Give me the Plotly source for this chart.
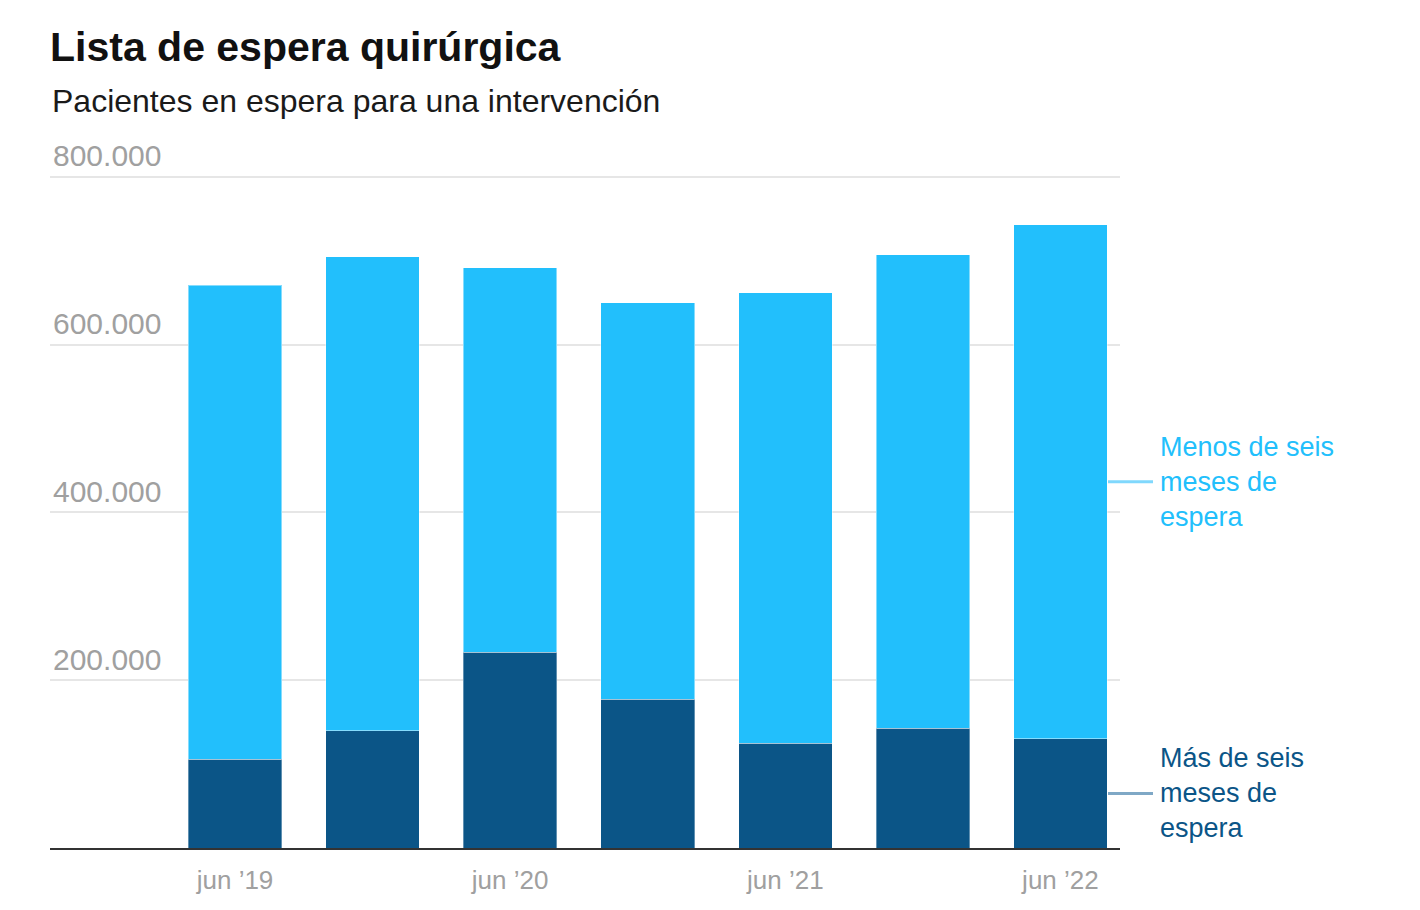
import plotly.graph_objects as go

categories = ["jun ’19", "dic ’19", "jun ’20", "dic ’20", "jun ’21", "dic ’21", "jun ’22"]
mas_seis_meses = [106000, 139500, 233500, 177500, 125000, 143000, 130000]
totales = [671000, 704500, 691500, 650000, 662000, 707000, 743000]
menos_seis_meses = [t - m for t, m in zip(totales, mas_seis_meses)]
tick_labels = ["jun ’19", "jun ’20", "jun ’21", "jun ’22"]
y_ticks = [200000, 400000, 600000, 800000]
y_tick_text = ["200.000", "400.000", "600.000", "800.000"]

LIGHT = "#22bffc"
DARK = "#0b5587"
FONT = "Liberation Sans, Arial, sans-serif"

fig = go.Figure()
fig.add_trace(go.Bar(x=categories, y=mas_seis_meses, name="Más de seis meses de espera",
                     marker=dict(color=DARK, line=dict(color="rgba(255,255,255,0.35)", width=1)),
                     hoverinfo="skip"))
fig.add_trace(go.Bar(x=categories, y=menos_seis_meses, name="Menos de seis meses de espera",
                     marker=dict(color=LIGHT, line=dict(color="rgba(255,255,255,0.45)", width=1)),
                     hoverinfo="skip"))

Y_MAX = 845000
L, R, T, B = 50, 300, 139, 62
W, H = 1420, 910
plot_w = W - L - R
plot_h = H - T - B

fig.update_layout(
    width=W, height=H,
    barmode="stack", bargap=0.32,
    showlegend=False,
    plot_bgcolor="white", paper_bgcolor="white",
    margin=dict(l=L, r=R, t=T, b=B),
    title=dict(text="<b>Lista de espera quirúrgica</b>", x=L / W, xanchor="left",
               y=1 - 47 / H, yanchor="middle", yref="container",
               font=dict(family=FONT, size=41, color="#111111")),
    xaxis=dict(
        type="category", range=[-1.345, 6.433],
        tickmode="array", tickvals=tick_labels, ticktext=tick_labels,
        tickfont=dict(family=FONT, size=26, color="#a0a0a0"),
        ticklabelstandoff=8,
        showgrid=False, ticks="", ticklen=0,
        showline=True, linecolor="#333333", linewidth=2,
        fixedrange=True,
    ),
    yaxis=dict(
        range=[0, Y_MAX],
        tickmode="array", tickvals=y_ticks, ticktext=y_tick_text,
        ticklabelposition="inside top",
        tickfont=dict(family=FONT, size=30, color="#a0a0a0"),
        showgrid=True, gridcolor="#e6e6e6", gridwidth=2,
        zeroline=False, showline=False, ticks="",
        fixedrange=True,
    ),
)

fig.add_annotation(text="Pacientes en espera para una intervención",
                   xref="paper", yref="paper", x=0, y=(H - B - 101) / plot_h,
                   xanchor="left", yanchor="middle", showarrow=False,
                   font=dict(family=FONT, size=32, color="#1a1a1a"))

last = len(categories) - 1
mid_light = mas_seis_meses[last] + menos_seis_meses[last] / 2
mid_dark = mas_seis_meses[last] / 2
x0 = (1108 - L) / plot_w
x1 = (1153 - L) / plot_w
xt = (1158 - L) / plot_w

for ymid, txt, col, lcol in [
    (mid_light, "Menos de seis<br>meses de<br>espera", LIGHT, "#80d8fd"),
    (mid_dark, "Más de seis<br>meses de<br>espera", DARK, "#7fa8c6"),
]:
    fig.add_shape(type="line", xref="paper", yref="y", x0=x0, x1=x1, y0=ymid, y1=ymid,
                  line=dict(color=lcol, width=3))
    fig.add_annotation(text=txt, xref="paper", yref="y", x=xt, y=ymid,
                       xanchor="left", yanchor="middle", align="left", showarrow=False,
                       font=dict(family=FONT, size=27, color=col))

fig.write_html("out.html")
